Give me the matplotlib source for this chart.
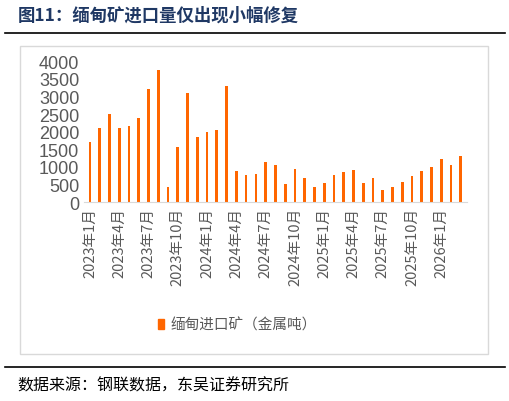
import numpy as np
import matplotlib.pyplot as plt

plt.rcParams['font.family'] = ['Noto Sans CJK SC', 'DejaVu Sans']

months = []
for y in (2023, 2024, 2025, 2026):
    for m in range(1, 13):
        months.append(f'{y}年{m}月')
months = months[:39]
values = [1700, 2100, 2500, 2100, 2150, 2400, 3200, 3750, 420, 1550, 3100, 1850, 2000,
          2050, 3300, 880, 780, 800, 1150, 1050, 500, 950, 670, 420, 550, 780, 850, 920,
          550, 680, 330, 430, 560, 730, 880, 1000, 1220, 1060, 1300]

fig = plt.figure(figsize=(5.10, 4.02), dpi=100)
# light grey frame around the chart
fig.add_artist(plt.Rectangle((0.04, 0.117), 0.917, 0.765, fill=False, ec='#D9D9D9', lw=1))
ax = fig.add_axes([0.165, 0.495, 0.75, 0.35])
x = np.arange(len(values))
ax.bar(x, values, width=0.28, color='#FF6600')
ax.set_ylim(0, 4000)
ax.set_yticks(range(0, 4001, 500))
ax.set_xlim(-0.6, len(values) - 0.4)
ax.set_xticks(x[::3])
ax.set_xticklabels(months[::3], rotation=90, fontsize=10.5, color='#595959')
ax.tick_params(axis='y', labelsize=13, colors='#595959', length=0)
for lab in ax.get_yticklabels():
    lab.set_family('Liberation Sans')
ax.tick_params(axis='x', length=0)
for s in ('top', 'right', 'left'):
    ax.spines[s].set_visible(False)
ax.spines['bottom'].set_color('#D9D9D9')

fig.text(0.035, 0.962, '图11：缅甸矿进口量仅出现小幅修复', fontsize=12.5, fontweight='bold',
         color='#1F3864', va='center')
fig.add_artist(plt.Line2D([0.01, 0.99], [0.915, 0.915], color='black', lw=1.2))
fig.add_artist(plt.Rectangle((0.31, 0.18), 0.012, 0.025, color='#FF6600'))
fig.text(0.335, 0.19, '缅甸进口矿（金属吨）', fontsize=10.5, color='#595959', va='center')
fig.add_artist(plt.Line2D([0.01, 0.99], [0.085, 0.085], color='black', lw=1.2))
fig.text(0.035, 0.04, '数据来源：钢联数据，东吴证券研究所', fontsize=11.5, color='black', va='center')

fig.savefig('out.png', dpi=100)
